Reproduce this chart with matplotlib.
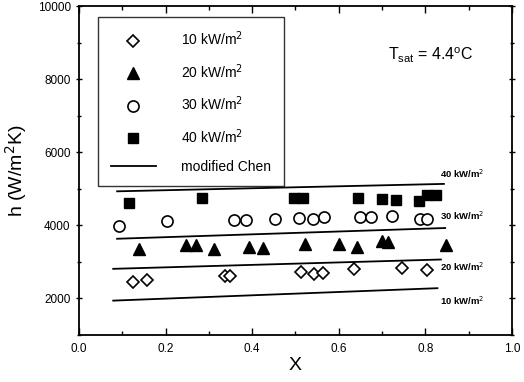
import matplotlib
matplotlib.use("Agg")
import matplotlib.pyplot as plt
from matplotlib.lines import Line2D

plt.rcParams['font.family'] = ['Liberation Sans', 'DejaVu Sans']

# 10 kW/m2 (diamonds)
x10 = [0.125, 0.158, 0.338, 0.348, 0.513, 0.542, 0.563, 0.636, 0.747, 0.803]
h10 = [2463, 2517, 2611, 2611, 2737, 2674, 2701, 2811, 2830, 2784]
# 20 kW/m2 (triangles)
x20 = [0.138, 0.248, 0.271, 0.311, 0.392, 0.426, 0.521, 0.601, 0.642, 0.700, 0.715, 0.847]
h20 = [3360, 3450, 3470, 3360, 3406, 3387, 3478, 3478, 3406, 3560, 3543, 3450]
# 30 kW/m2 (circles)
x30 = [0.092, 0.204, 0.357, 0.385, 0.453, 0.509, 0.541, 0.565, 0.650, 0.674, 0.723, 0.788, 0.805]
h30 = [3972, 4109, 4156, 4156, 4175, 4202, 4175, 4219, 4219, 4219, 4257, 4183, 4183]
# 40 kW/m2 (squares)
x40 = [0.116, 0.283, 0.496, 0.517, 0.645, 0.700, 0.732, 0.786, 0.805, 0.824]
h40 = [4622, 4751, 4751, 4751, 4751, 4732, 4696, 4677, 4822, 4841]

# modified Chen lines (start/end)
chen_x = {10: [0.079, 0.828], 20: [0.079, 0.836], 30: [0.088, 0.846], 40: [0.088, 0.843]}
chen_h = {10: [1941, 2281], 20: [2811, 3066], 30: [3634, 3928], 40: [4932, 5135]}
chen_label_y = {10: 1941, 20: 2866, 30: 4273, 40: 5418}

fig = plt.figure(figsize=(5.24, 3.82), dpi=100)
ax = fig.add_axes([0.1508, 0.123, 0.826, 0.861])

ax.plot(x10, h10, linestyle='none', marker='D', ms=6.5, mfc='white', mec='black', mew=1.2, label='10 kW/m$^2$')
ax.plot(x20, h20, linestyle='none', marker='^', ms=9, mfc='black', mec='black', label='20 kW/m$^2$')
ax.plot(x30, h30, linestyle='none', marker='o', ms=8, mfc='white', mec='black', mew=1.2, label='30 kW/m$^2$')
ax.plot(x40, h40, linestyle='none', marker='s', ms=7.5, mfc='black', mec='black', label='40 kW/m$^2$')
for q in (10, 20, 30, 40):
    ax.plot(chen_x[q], chen_h[q], color='black', lw=1.3)
    ax.text(0.834, chen_label_y[q], f'{q} kW/m$^2$', fontsize=6.8, fontweight='bold',
            va='center', ha='left')

handles, labels = ax.get_legend_handles_labels()
handles.append(Line2D([], [], color='black', lw=1.3))
labels.append('modified Chen')
leg = ax.legend(handles, labels, loc='upper left', bbox_to_anchor=(0.044, 0.966),
                fontsize=10, frameon=True, fancybox=False, edgecolor='black',
                borderpad=0.9, labelspacing=1.0, handlelength=3.3, handletextpad=1.8,
                borderaxespad=0)
leg.get_frame().set_linewidth(1.0)

ax.text(0.715, 8660, r'T$_{\mathregular{sat}}$ = 4.4$^{\mathregular{o}}$C', fontsize=11.5, ha='left', va='center')

ax.set_xlim(0, 1.0)
ax.set_ylim(1000, 10000)
ax.set_xticks([0.0, 0.2, 0.4, 0.6, 0.8, 1.0])
ax.set_xticklabels(['0.0', '0.2', '0.4', '0.6', '0.8', '1.0'])
ax.set_xticks([0.1, 0.3, 0.5, 0.7, 0.9], minor=True)
ax.set_yticks([2000, 4000, 6000, 8000, 10000])
ax.set_yticks([1000, 3000, 5000, 7000, 9000], minor=True)
ax.tick_params(axis='both', which='major', labelsize=8.5, length=5, width=1.0, top=True, right=True)
ax.tick_params(axis='both', which='minor', length=3, width=1.0, top=True, right=True)
ax.tick_params(axis='x', which='both', direction='in', pad=6)
ax.tick_params(axis='y', which='both', direction='inout')
for s in ax.spines.values():
    s.set_linewidth(1.3)

ax.set_xlabel('X', fontsize=14, labelpad=1)
ax.set_ylabel('h (W/m$^2$K)', fontsize=14, labelpad=6)

fig.savefig('out.png', dpi=100)
